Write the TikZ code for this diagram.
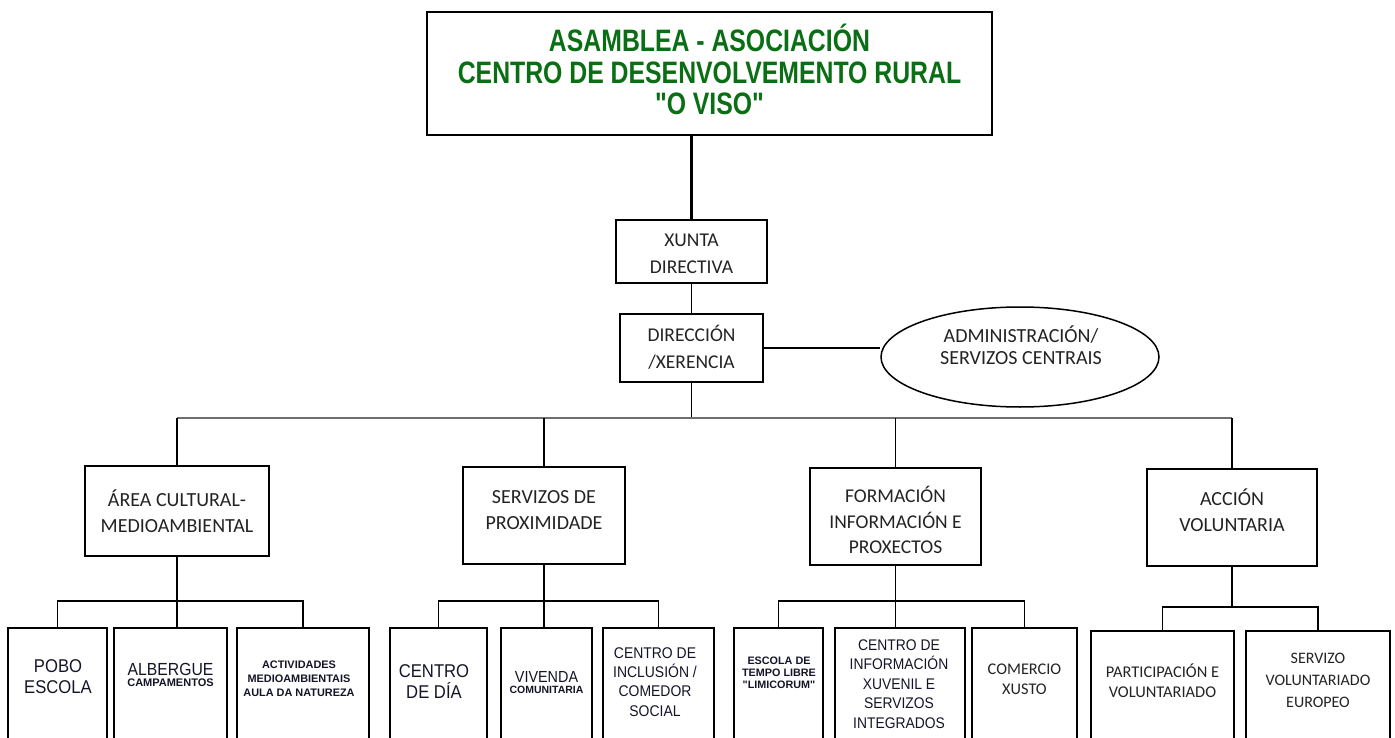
\documentclass[tikz,border=0pt]{standalone}
\usepackage{fontspec}
\usetikzlibrary{shapes.geometric}
\setmainfont{Carlito}
\newfontfamily\arialf{Liberation Sans}
\newfontfamily\arialn[FakeStretch=0.9]{Liberation Sans}
\newfontfamily\titlef[FakeStretch=0.80]{Liberation Sans}
\definecolor{titlegreen}{RGB}{10,110,20}
\definecolor{txtgray}{RGB}{35,35,35}
\definecolor{artink}{RGB}{20,20,40}
\definecolor{busgray}{RGB}{110,110,110}
\begin{document}
\begin{tikzpicture}[x=1pt,y=-1pt,
  box/.style={draw=black, line width=1.8pt, rectangle, inner sep=0pt},
  lbl/.style={align=center, text=txtgray, inner sep=0pt, font=\fontsize{20}{26}\selectfont},
  art/.style={align=center, text=artink, inner sep=0pt},
  conn/.style={line width=1.5pt},
  thickconn/.style={line width=2.8pt},
  bus/.style={line width=2.2pt, draw=busgray}]
\useasboundingbox (0,0) rectangle (1395,738);
\clip (0,0) rectangle (1395,738);
% top
\node[box, minimum width=565, minimum height=123] (asm) at (709.5,73.5) {};
\node[align=center, inner sep=0pt, text=titlegreen, font=\titlef\bfseries\fontsize{31}{31.5}\selectfont] (asmT) at (709.5,69.5) {ASAMBLEA - ASOCIACIÓN\\CENTRO DE DESENVOLVEMENTO RURAL\\"O VISO"};
\node[box, minimum width=151, minimum height=63] (xun) at (691.5,251.5) {};
\node[lbl, font=\fontsize{19.5}{27}\selectfont] (xunT) at (691.5,254) {XUNTA\\DIRECTIVA};
\node[box, minimum width=143, minimum height=68] (dir) at (691.5,348) {};
\node[lbl, font=\fontsize{19.5}{27}\selectfont] (dirT) at (691.5,347) {DIRECCIÓN\\/XERENCIA};
\node[draw=black, line width=1.5pt, ellipse, minimum width=278, minimum height=100, inner sep=0pt] (adm) at (1020,357) {};
\node[lbl, font=\fontsize{20}{22.5}\selectfont] (admT) at (1021,345) {ADMINISTRACIÓN/\\SERVIZOS CENTRAIS};
% level 2
\node[box, minimum width=184, minimum height=90] (area) at (177,511) {};
\node[lbl] (areaT) at (177,511) {ÁREA CULTURAL-\\MEDIOAMBIENTAL};
\node[box, minimum width=162, minimum height=97] (serv) at (544,515.5) {};
\node[lbl] (servT) at (544,510) {SERVIZOS DE\\PROXIMIDADE};
\node[box, minimum width=171, minimum height=97] (form) at (895.5,516.5) {};
\node[lbl, font=\fontsize{19.5}{25.5}\selectfont] (formT) at (895.5,520) {FORMACIÓN\\INFORMACIÓN E\\PROXECTOS};
\node[box, minimum width=170, minimum height=97] (acc) at (1232,517.5) {};
\node[lbl] (accT) at (1232,510) {ACCIÓN\\VOLUNTARIA};
% bottom boxes
\node[box, minimum width=99, minimum height=132] (pobo) at (57.5,694) {};
\node[art, font=\arialn\fontsize{18.5}{21}\selectfont] (poboT) at (58,677) {POBO\\ESCOLA};
\node[box, minimum width=113, minimum height=132] (alb) at (170.5,694) {};
\node[art] (albT) at (170.5,675) {{\arialn\fontsize{17.5}{17}\selectfont ALBERGUE}\\[-1pt]{\arialf\bfseries\fontsize{11}{12}\selectfont CAMPAMENTOS}};
\node[box, minimum width=132, minimum height=132] (act) at (303,694) {};
\node[art, font=\arialf\bfseries\fontsize{10.9}{14}\selectfont] (actT) at (299,679) {ACTIVIDADES\\MEDIOAMBIENTAIS\\AULA DA NATUREZA};
\node[box, minimum width=97, minimum height=132] (dia) at (438.5,694) {};
\node[art, font=\arialn\fontsize{18.5}{21}\selectfont] (diaT) at (434,682) {CENTRO\\DE DÍA};
\node[box, minimum width=91, minimum height=132] (viv) at (546.5,694) {};
\node[art] (vivT) at (546.5,683) {{\arialn\fontsize{16}{16}\selectfont VIVENDA}\\[-1pt]{\arialf\bfseries\fontsize{10.5}{11}\selectfont COMUNITARIA}};
\node[box, minimum width=111, minimum height=132] (inc) at (658.5,694) {};
\node[art, font=\arialn\fontsize{15.5}{19.2}\selectfont] (incT) at (655,682) {CENTRO DE\\INCLUSIÓN /\\COMEDOR\\SOCIAL};
\node[box, minimum width=89, minimum height=132] (esc) at (778.5,694) {};
\node[art, font=\arialf\bfseries\fontsize{10.8}{12}\selectfont] (escT) at (779,673) {ESCOLA DE\\TEMPO LIBRE\\"LIMICORUM"};
\node[box, minimum width=130, minimum height=132] (cix) at (900,694) {};
\node[art, font=\arialn\fontsize{15.4}{19.5}\selectfont] (cixT) at (899,684) {CENTRO DE\\INFORMACIÓN\\XUVENIL E\\SERVIZOS\\INTEGRADOS};
\node[box, minimum width=105, minimum height=132] (com) at (1024.5,694) {};
\node[lbl, font=\fontsize{16.3}{20}\selectfont] (comT) at (1024.5,679) {COMERCIO\\XUSTO};
\node[box, minimum width=143, minimum height=132] (par) at (1162.5,697) {};
\node[lbl, font=\fontsize{16.4}{19.5}\selectfont] (parT) at (1162.5,680.5) {PARTICIPACIÓN E\\VOLUNTARIADO};
\node[box, minimum width=144, minimum height=132] (sve) at (1318,697) {};
\node[lbl, font=\fontsize{16}{22}\selectfont] (sveT) at (1318,680) {SERVIZO\\VOLUNTARIADO\\EUROPEO};
% connectors
\coordinate (busy) at (0,418);
\draw[thickconn] (xun.north |- asm.south) -- (xun.north);
\draw[conn] (xun.south) -- (dir.north);
\draw[conn] (dir.east) -- (adm.west |- dir.east);
\draw[conn] (dir.south) -- (dir.south |- busy);
\draw[bus] (area.north |- busy) -- (acc.north |- busy);
\draw[conn] (area.north |- busy) -- (area.north);
\draw[conn] (serv.north |- busy) -- (serv.north);
\draw[conn] (form.north |- busy) -- (form.north);
\draw[conn] (acc.north |- busy) -- (acc.north);
% sub-buses
\draw[conn] (area.south) -- (area.south |- alb.north);
\draw[conn] (pobo.north) -- ++(0,-26) -| (act.north);
\draw[conn] (serv.south) -- (serv.south |- viv.north);
\draw[conn] (dia.north) -- ++(0,-26) -| (inc.north);
\draw[conn] (form.south) -- (form.south |- cix.north);
\draw[conn] (esc.north) -- ++(0,-26) -| (com.north);
\draw[conn] (acc.south) -- ++(0,40) coordinate (accsb);
\draw[conn] (par.north) -- (par.north |- accsb) -| (sve.north);
\end{tikzpicture}
\end{document}
